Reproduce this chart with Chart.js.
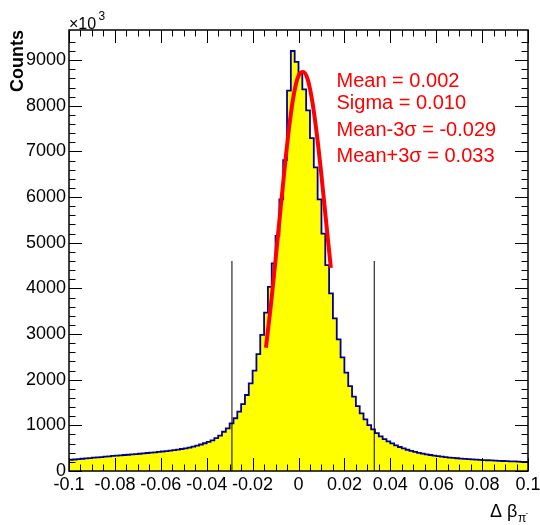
<!DOCTYPE html>
<html>
<head>
<meta charset="utf-8">
<script src="https://cdn.jsdelivr.net/npm/chart.js@4.4.1/dist/chart.umd.min.js"></script>
<style>
  html, body { margin: 0; padding: 0; background: #fff; }
  #wrap { width: 540px; height: 525px; }
</style>
</head>
<body>
<div id="wrap"><canvas id="c" width="540" height="525"></canvas></div>
<script>
// histogram range; counts are in units of 10^3, as shown on the y axis
const binLow = -0.1;
const binHigh = 0.1;
const countsK = [
  238, 246, 252, 259, 268, 276, 284, 291, 299, 306,
  314, 322, 330, 336, 343, 350, 356, 363, 370, 378,
  386, 394, 402, 410, 418, 427, 436, 446, 457, 469,
  482, 497, 514, 533, 555, 580, 608, 638, 672, 718,
  775, 860, 935, 1045, 1155, 1300, 1467, 1665, 1920, 2200,
  2560, 2980, 3470, 4035, 4550, 5150, 5950, 6810, 8330, 9200,
  8960, 8700, 8360, 7900, 7290, 6650, 5950, 5200, 4510, 3890,
  3343, 2884, 2490, 2153, 1861, 1627, 1423, 1263, 1131, 1007,
  913, 830, 760, 700, 648, 603, 562, 526, 494, 465,
  440, 418, 398, 380, 364, 350, 337, 325, 314, 304,
  295, 287, 279, 272, 266, 260, 254, 249, 244, 239,
  235, 231, 227, 223, 219, 216, 212, 209, 205, 202
];

// gaussian fit curve
const fitX = [-0.0142, -0.012, -0.010, -0.008, -0.006, -0.004, -0.002, 0.000, 0.002, 0.004, 0.006, 0.008, 0.010, 0.012, 0.0141];
const fitY = [2700, 3650, 4620, 5650, 6650, 7560, 8260, 8660, 8740, 8580, 8100, 7370, 6470, 5480, 4450];

// mean -/+ 3 sigma markers
const cutX = [-0.029, 0.033];
const cutTop = 4600;

const statLines = ['Mean = 0.002', 'Sigma = 0.010', 'Mean-3\u03c3 = -0.029', 'Mean+3\u03c3 = 0.033'];
const yMax = 9660;

const FONT = "'Liberation Sans', Arial, Helvetica, sans-serif";
Chart.defaults.font.family = FONT;
Chart.defaults.color = '#000';

const binWidth = (binHigh - binLow) / countsK.length;
const histPoints = countsK.map((c, i) => ({ x: binLow + i * binWidth, y: c }));
histPoints.push({ x: binHigh, y: countsK[countsK.length - 1] });

const fitPoints = fitX.map((x, i) => ({ x: x, y: fitY[i] }));

const isMajorX = v => Math.round(v * 1000) % 20 === 0;

// no extra room for the end labels, the frame is fixed by layout padding
function fixBox(s) {
  s.paddingLeft = 0; s.paddingRight = 0; s.paddingTop = 0; s.paddingBottom = 0;
}

// ROOT style frame: box plus inward ticks on all four sides, and the extra texts
const rootFrame = {
  id: 'rootFrame',
  afterDatasetsDraw(chart) {
    const { ctx, chartArea: a, scales: { x, y } } = chart;
    ctx.save();
    ctx.strokeStyle = '#000';
    ctx.lineWidth = 1;
    ctx.beginPath();
    x.ticks.forEach(t => {
      const px = Math.round(x.getPixelForValue(t.value)) + 0.5;
      const len = isMajorX(t.value) ? 13 : 6.5;
      ctx.moveTo(px, a.bottom); ctx.lineTo(px, a.bottom - len);
      ctx.moveTo(px, a.top); ctx.lineTo(px, a.top + len);
    });
    y.ticks.forEach(t => {
      if (Math.round(t.value) % 200 !== 0) return;
      const py = Math.round(y.getPixelForValue(t.value)) + 0.5;
      const len = Math.round(t.value) % 1000 === 0 ? 13 : 6.5;
      ctx.moveTo(a.left, py); ctx.lineTo(a.left + len, py);
      ctx.moveTo(a.right, py); ctx.lineTo(a.right - len, py);
    });
    ctx.stroke();
    ctx.lineWidth = 1.5;
    ctx.strokeRect(a.left, a.top, a.right - a.left, a.bottom - a.top);
    ctx.restore();
  },
  afterDraw(chart) {
    const { ctx, chartArea: a } = chart;
    ctx.save();
    ctx.fillStyle = '#000';
    ctx.textBaseline = 'alphabetic';
    // x10^3 multiplier
    ctx.font = '16px ' + FONT;
    ctx.fillText('\u00d710', a.left, 28.5);
    ctx.font = '12px ' + FONT;
    ctx.fillText('3', a.left + 29.5, 20);
    // x axis title
    ctx.font = '18px ' + FONT;
    ctx.fillText('\u0394 \u03b2', 490, 517);
    ctx.font = '12px ' + FONT;
    ctx.fillText('\u03c0', 518, 522);
    ctx.font = '8px ' + FONT;
    ctx.fillText('-', 525.5, 515);
    // fit results
    ctx.fillStyle = '#ff0000';
    ctx.font = '20px ' + FONT;
    const base = [86.5, 108.5, 136, 161.5];
    statLines.forEach((s, i) => ctx.fillText(s, 336.5, base[i]));
    ctx.restore();
  }
};

new Chart(document.getElementById('c'), {
  type: 'line',
  data: {
    datasets: [
      {
        label: 'fit',
        data: fitPoints,
        borderColor: '#ff0000',
        borderWidth: 4,
        fill: false,
        cubicInterpolationMode: 'monotone',
        pointRadius: 0
      },
      {
        label: 'mean-3s',
        data: [{ x: cutX[0], y: 0 }, { x: cutX[0], y: cutTop }],
        borderColor: '#000',
        borderWidth: 1,
        fill: false,
        pointRadius: 0
      },
      {
        label: 'mean+3s',
        data: [{ x: cutX[1], y: 0 }, { x: cutX[1], y: cutTop }],
        borderColor: '#000',
        borderWidth: 1,
        fill: false,
        pointRadius: 0
      },
      {
        label: 'hist',
        data: histPoints,
        stepped: 'after',
        borderColor: '#000099',
        borderWidth: 1.8,
        backgroundColor: '#ffff00',
        fill: 'origin',
        pointRadius: 0
      }
    ]
  },
  options: {
    responsive: false,
    animation: false,
    events: [],
    layout: { padding: { top: 30, right: 12, left: 0, bottom: 0 } },
    plugins: { legend: { display: false }, tooltip: { enabled: false } },
    scales: {
      x: {
        type: 'linear',
        min: binLow,
        max: binHigh,
        grid: { display: false, drawTicks: false },
        border: { display: false },
        ticks: {
          stepSize: 0.005,
          maxTicksLimit: 100,
          autoSkip: false,
          maxRotation: 0,
          padding: 3,
          font: { size: 18 },
          color: '#000',
          callback: v => {
            const m = Math.round(v * 1000);
            return m % 20 === 0 ? String(m / 1000) : '';
          }
        },
        afterFit: s => { s.height = 54; fixBox(s); }
      },
      y: {
        min: 0,
        max: yMax,
        grid: { display: false, drawTicks: false },
        border: { display: false },
        ticks: {
          stepSize: 200,
          maxTicksLimit: 100,
          autoSkip: false,
          padding: 3,
          font: { size: 18 },
          color: '#000',
          callback: v => (Math.round(v) % 1000 === 0 ? String(Math.round(v)) : '')
        },
        title: {
          display: true,
          text: 'Counts',
          align: 'end',
          color: '#000',
          font: { size: 18, weight: 'bold' },
          padding: { top: 7, bottom: 0 }
        },
        afterFit: s => { s.width = 69; fixBox(s); }
      }
    }
  },
  plugins: [rootFrame]
});
</script>
</body>
</html>
